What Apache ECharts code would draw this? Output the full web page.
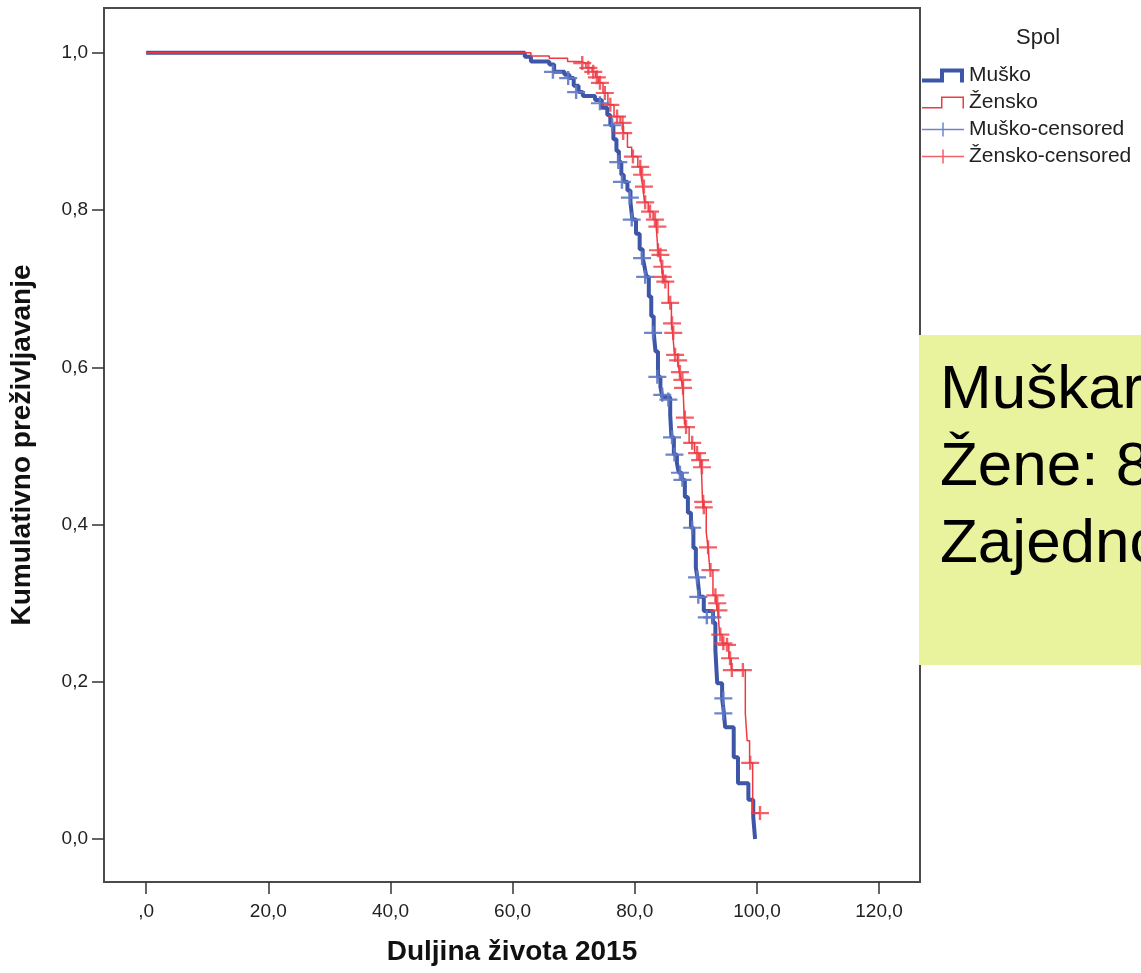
<!DOCTYPE html>
<html>
<head>
<meta charset="utf-8">
<script src="https://cdn.jsdelivr.net/npm/echarts@6/dist/echarts.min.js"></script>
<style>
  html, body { margin: 0; padding: 0; background: #fff; }
  #main { width: 1141px; height: 973px; }
</style>
</head>
<body>
<div id="main"></div>
<script>
// Kaplan-Meier krivulje: [vrijeme, preživljavanje nakon pada]
const maleCurve = [
  [0, 1], [62.0, 0.995], [63.0, 0.989], [66.0, 0.985], [66.8, 0.976], [68.5, 0.972],
  [69.3, 0.968], [70.0, 0.958], [70.8, 0.950], [71.5, 0.945], [73.5, 0.940], [74.6, 0.930],
  [75.5, 0.921], [76.0, 0.908], [76.5, 0.890], [77.0, 0.875], [77.4, 0.861], [77.8, 0.845],
  [78.2, 0.836], [78.8, 0.825], [79.3, 0.810], [79.6, 0.788], [80.2, 0.770], [80.8, 0.750],
  [81.3, 0.739], [81.6, 0.728], [81.9, 0.715], [82.3, 0.690], [82.7, 0.665], [83.1, 0.644],
  [83.4, 0.620], [83.8, 0.588], [84.2, 0.575], [84.5, 0.562], [85.8, 0.540], [86.0, 0.511],
  [86.4, 0.489], [86.9, 0.478], [87.2, 0.466], [87.7, 0.457], [88.2, 0.435], [88.7, 0.415],
  [89.2, 0.396], [89.6, 0.370], [90.0, 0.345], [90.3, 0.330], [90.6, 0.308], [91.3, 0.290],
  [92.8, 0.275], [93.2, 0.240], [93.5, 0.198], [94.3, 0.179], [94.6, 0.160], [94.8, 0.142],
  [96.2, 0.104], [96.9, 0.071], [98.6, 0.050], [99.4, 0.028], [99.7, 0.0]
];
const femaleCurve = [
  [0, 1], [63.0, 0.996], [66.0, 0.993], [69.0, 0.989], [71.0, 0.987], [72.0, 0.981],
  [73.0, 0.976], [73.6, 0.969], [74.1, 0.962], [74.8, 0.949], [75.6, 0.934], [76.6, 0.919],
  [77.6, 0.911], [78.1, 0.898], [78.8, 0.880], [79.5, 0.868], [80.5, 0.855], [81.0, 0.845],
  [81.3, 0.830], [81.6, 0.810], [82.2, 0.798], [83.0, 0.788], [83.5, 0.779], [83.8, 0.749],
  [84.1, 0.743], [84.4, 0.728], [84.6, 0.715], [84.9, 0.709], [85.5, 0.682], [86.0, 0.656],
  [86.2, 0.644], [86.5, 0.616], [87.0, 0.609], [87.3, 0.594], [87.6, 0.584], [87.9, 0.574],
  [88.1, 0.536], [88.3, 0.524], [88.9, 0.504], [89.8, 0.491], [90.5, 0.482], [90.9, 0.473],
  [91.1, 0.429], [91.3, 0.422], [91.7, 0.390], [92.0, 0.371], [92.3, 0.342], [92.8, 0.310],
  [93.3, 0.300], [93.6, 0.291], [93.9, 0.260], [94.3, 0.249], [95.0, 0.247], [95.4, 0.230],
  [95.8, 0.215], [98.1, 0.160], [98.4, 0.125], [98.8, 0.097], [99.3, 0.033], [100.5, 0.033]
];
// cenzurirani slučajevi
const maleCensored = [
  [66.6, 0.976], [69.1, 0.968], [70.4, 0.950], [74.3, 0.936], [76.3, 0.908], [77.3, 0.861],
  [77.9, 0.836], [79.2, 0.816], [79.5, 0.788], [81.2, 0.739], [81.7, 0.715], [83.0, 0.644],
  [83.7, 0.588], [84.5, 0.565], [85.5, 0.559], [86.1, 0.511], [86.5, 0.489], [87.4, 0.466],
  [87.8, 0.457], [89.4, 0.396], [90.2, 0.333], [90.4, 0.308], [91.8, 0.282], [92.7, 0.282],
  [94.5, 0.179], [94.5, 0.160]
];
const femaleCensored = [
  [71.4, 0.987], [72.4, 0.981], [73.2, 0.976], [73.8, 0.969], [74.3, 0.962], [75.1, 0.949],
  [76.0, 0.934], [77.1, 0.919], [78.0, 0.911], [78.1, 0.898], [79.7, 0.868], [80.9, 0.855],
  [81.2, 0.845], [81.5, 0.830], [81.7, 0.810], [82.5, 0.798], [83.3, 0.788], [83.7, 0.779],
  [83.8, 0.749], [84.2, 0.743], [84.5, 0.728], [84.6, 0.715], [85.0, 0.709], [85.8, 0.682],
  [86.1, 0.656], [86.3, 0.644], [86.6, 0.616], [87.1, 0.609], [87.4, 0.594], [87.8, 0.584],
  [87.9, 0.574], [88.2, 0.536], [88.4, 0.524], [89.4, 0.504], [90.2, 0.491], [90.7, 0.482],
  [91.0, 0.473], [91.2, 0.429], [91.3, 0.422], [92.0, 0.371], [92.4, 0.342], [93.2, 0.310],
  [93.5, 0.300], [93.7, 0.291], [94.0, 0.260], [94.5, 0.249], [95.1, 0.247], [95.6, 0.230],
  [95.9, 0.215], [97.7, 0.215], [98.9, 0.097], [100.5, 0.033]
];
const xTicks = [0, 20, 40, 60, 80, 100, 120];
const yTicks = [0, 0.2, 0.4, 0.6, 0.8, 1.0];

const BLUE = '#3d56a8';
const RED = '#ee3a43';
const FONT = '"Liberation Sans", Arial, sans-serif';

const plusPath = 'path://M0,6L7.8,6L7.8,0L10.2,0L10.2,6L18,6L18,8.2L10.2,8.2L10.2,14L7.8,14L7.8,8.2L0,8.2Z';
const plusLegend = 'path://M0,6.25L20.25,6.25L20.25,0L21.75,0L21.75,6.25L42,6.25L42,7.75L21.75,7.75L21.75,14L20.25,14L20.25,7.75L0,7.75Z';
const stepThick = 'path://M0,10L18,10L18,0L42,0L42,14L38,14L38,4L22,4L22,14L0,14Z';
const stepThin = 'path://M0,12.5L19,12.5L19,2L42,2L42,14L40.5,14L40.5,3.5L20.5,3.5L20.5,14L0,14Z';

const chart = echarts.init(document.getElementById('main'));

const option = {
  animation: false,
  backgroundColor: '#fff',
  title: {
    text: 'Spol',
    left: 1011,
    top: 22,
    textStyle: { fontFamily: FONT, fontSize: 22, fontWeight: 'normal', color: '#222' }
  },
  legend: {
    orient: 'vertical',
    left: 922,
    top: 65,
    padding: 0,
    itemWidth: 42,
    itemHeight: 14,
    itemGap: 6,
    itemTextGap: 2,
    textStyle: { fontFamily: FONT, fontSize: 21, color: '#222' },
    data: [
      { name: 'Muško', icon: stepThick },
      { name: 'Žensko', icon: stepThin },
      { name: 'Muško-censored', icon: plusLegend },
      { name: 'Žensko-censored', icon: plusLegend }
    ]
  },
  grid: {
    left: 104, right: 221, top: 8, bottom: 91,
    show: true, borderColor: '#4a4a4a', borderWidth: 2,
    outerBoundsMode: 'none'
  },
  xAxis: {
    type: 'value',
    min: -6.9, max: 126.7,
    name: 'Duljina života 2015',
    nameLocation: 'middle',
    nameGap: 56,
    nameTextStyle: { fontFamily: FONT, fontSize: 28, fontWeight: 'bold', color: '#111' },
    axisLine: { show: false, onZero: false },
    splitLine: { show: false },
    axisTick: { show: true, length: 12, customValues: xTicks, lineStyle: { color: '#333', width: 1.5 } },
    axisLabel: {
      customValues: xTicks, margin: 20,
      fontFamily: FONT, fontSize: 19, color: '#222',
      formatter: v => v === 0 ? ',0' : v.toFixed(1).replace('.', ',')
    }
  },
  yAxis: {
    type: 'value',
    min: -0.0547, max: 1.057,
    name: 'Kumulativno preživljavanje',
    nameLocation: 'middle',
    nameGap: 68,
    nameTextStyle: { fontFamily: FONT, fontSize: 28, fontWeight: 'bold', color: '#111' },
    axisLine: { show: false, onZero: false },
    splitLine: { show: false },
    axisTick: { show: true, length: 12, customValues: yTicks, lineStyle: { color: '#333', width: 1.5 } },
    axisLabel: {
      customValues: yTicks, margin: 16,
      fontFamily: FONT, fontSize: 19, color: '#222',
      formatter: v => v.toFixed(1).replace('.', ',')
    }
  },
  series: [
    {
      name: 'Muško', type: 'line', step: 'end', data: maleCurve,
      showSymbol: false,
      lineStyle: { color: BLUE, width: 4 }, itemStyle: { color: BLUE }, z: 2
    },
    {
      name: 'Žensko', type: 'line', step: 'end', data: femaleCurve,
      showSymbol: false,
      lineStyle: { color: RED, width: 1.5 }, itemStyle: { color: RED }, z: 3
    },
    {
      name: 'Muško-censored', type: 'scatter', data: maleCensored,
      symbol: plusPath, symbolSize: [18, 14],
      itemStyle: { color: '#5f78c4', opacity: 0.9 }, z: 4
    },
    {
      name: 'Žensko-censored', type: 'scatter', data: femaleCensored,
      symbol: plusPath, symbolSize: [18, 14],
      itemStyle: { color: RED }, z: 5
    }
  ],
  graphic: [
    {
      type: 'rect', left: 919, top: 335, z: 100,
      shape: { width: 240, height: 330 },
      style: { fill: '#e9f29c' }
    },
    {
      type: 'text', left: 940, top: 352, z: 101,
      style: {
        text: 'Muškarci:\nŽene: 8\nZajedno:',
        font: '62px ' + FONT, lineHeight: 77, fill: '#000'
      }
    }
  ]
};

chart.setOption(option);
</script>
</body>
</html>
